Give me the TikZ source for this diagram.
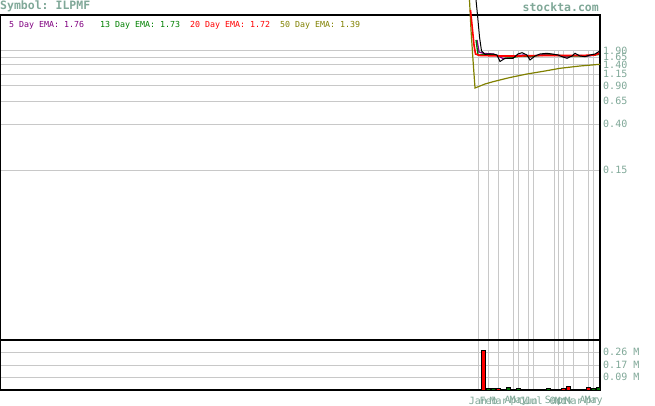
\documentclass[tikz,border=0pt]{standalone}
\usepackage{fontspec}
\setmonofont{DejaVu Sans Mono}
\definecolor{axislbl}{RGB}{128,168,152}
\definecolor{ema5}{RGB}{128,0,128}
\definecolor{ema13}{RGB}{0,128,0}
\definecolor{ema50}{RGB}{128,128,0}
\definecolor{volgreen}{RGB}{0,110,0}
\definecolor{gridgray}{RGB}{200,200,200}
\tikzset{
	grid line/.style={gridgray,line width=1pt},
	frame line/.style={black,line width=1.2pt},
	axis label/.style={axislbl,anchor=west,inner sep=0pt,font=\ttfamily\fontsize{10}{10}\selectfont},
	month label/.style={axislbl,inner sep=0pt,font=\ttfamily\fontsize{10}{10}\selectfont},
	title label/.style={axislbl,inner sep=0pt,font=\ttfamily\bfseries\fontsize{11.5}{11.5}\selectfont},
	legend label/.style={anchor=west,inner sep=0pt,font=\ttfamily\fontsize{8.3}{8.3}\selectfont},
	vol bar/.style={draw=black,line width=0.8pt}
}
\begin{document}
\begin{tikzpicture}[x=1pt,y=-1pt]
				\useasboundingbox (0,0) rectangle (655,406);
				\foreach \v [count=\i] in {1.90,1.65,1.40,1.15,0.90,0.65,0.40,0.15} {
					\pgfmathsetmacro\yv{50.5+47.3*(ln(1.9)-ln(\v))}
					\draw [grid line] (0,\yv) -- (600,\yv);
					\node [axis label] (price\i) at (603,\yv) {\v};
				}
				\foreach \y/\t [count=\i] in {352.3/0.26 M,365/0.17 M,377.3/0.09 M} {
					\draw [grid line] (0,\y) -- (600,\y);
					\node [axis label] (volume\i) at (603,\y) {\t};
				}
				\foreach \x/\m [count=\i] in {478/Jan,488.7/Feb,498.7/Mar,513.7/Apr,518.7/May,528.7/Jun,533.7/Jul,554/Sep,558.7/Oct,563.7/Nov,573.7/Mar,588.7/Apr,593.7/May} {
					\draw [grid line] (\x,50.5) -- (\x,390);
					\node [month label] (month\i) at (\x,400.5) {\m};
				}
				\draw [frame line] (0.7,15) rectangle (600,390);
				\draw [frame line] (0.7,340) -- (600,340);
				\node [title label,anchor=west] (symbol) at (0,6.5) {Symbol: ILPMF};
				\node [title label,anchor=east] (site) at (599,7.5) {stockta.com};
				\node [legend label,ema5] (legend5) at (9,25) {5 Day EMA: 1.76};
				\node [legend label,ema13] (legend13) at (100,25) {13 Day EMA: 1.73};
				\node [legend label,red] (legend20) at (190,25) {20 Day EMA: 1.72};
				\node [legend label,ema50] (legend50) at (280,25) {50 Day EMA: 1.39};
				\draw [black,line width=1.5pt] (476,389.5) -- (600,389.5);
				\foreach \xa/\xb/\yt/\c in {481.7/485.7/350.7/red,486.7/490.7/388.7/volgreen,491.7/495.7/388.7/volgreen,496.7/500.7/388.7/red,506/510.7/387.3/volgreen,516/520.7/388.5/volgreen,546/550.7/388.3/volgreen,561.7/565.7/388.3/red,566/570.7/386/red,586/590.7/387.3/red,591/595/388.7/volgreen,596/600/387/volgreen}
					\draw [vol bar,fill=\c] (\xa,\yt) rectangle (\xb,390);
				\draw [ema50,line width=1.2pt] plot coordinates {(469.5,0) (471,30) (473,60) (475,88) (485,84) (493,81.7) (510,77.5) (527,74) (545,71) (560,68.3) (580,66) (600,64.3)};
				\draw [ema5,line width=1.3pt] plot coordinates {(477,40) (479,52) (484,53.5) (493,54) (498,56) (503,58.5) (512,58) (518,55.5) (524,55) (530,57) (536,55.5) (545,54.5) (553,54.5) (560,55.5) (567,57) (574,55.5) (580,55.5) (588,56) (595,55) (599,53)};
				\draw [ema13,line width=1.3pt] plot coordinates {(476,40) (478,55) (490,54.5) (500,56) (508,57) (515,57) (522,56) (530,56.5) (540,55.5) (550,55) (560,55.5) (570,56) (580,56) (590,55.5) (599,54.5)};
				\draw [red,line width=1.6pt] plot coordinates {(470.5,10) (472,25) (474,45) (475.5,54) (480,55.5) (500,56) (520,56) (540,55.5) (560,55.5) (580,55.5) (595,55) (599,53.5)};
				\draw [black,line width=1pt] plot coordinates {(476,0) (477.5,15) (479.5,37) (481.5,51) (485,54.3) (493,54) (497,55) (500,61.5) (505,58.3) (513,58.3) (518,54) (522,52.7) (527,55) (530,60) (535,56) (540,54) (547,53.3) (552,54) (558,55) (562,56.7) (567,58.3) (572,56) (575,53.3) (580,56) (585,56.7) (590,55) (595,54) (599,51.5)};
			\end{tikzpicture}
\end{document}
